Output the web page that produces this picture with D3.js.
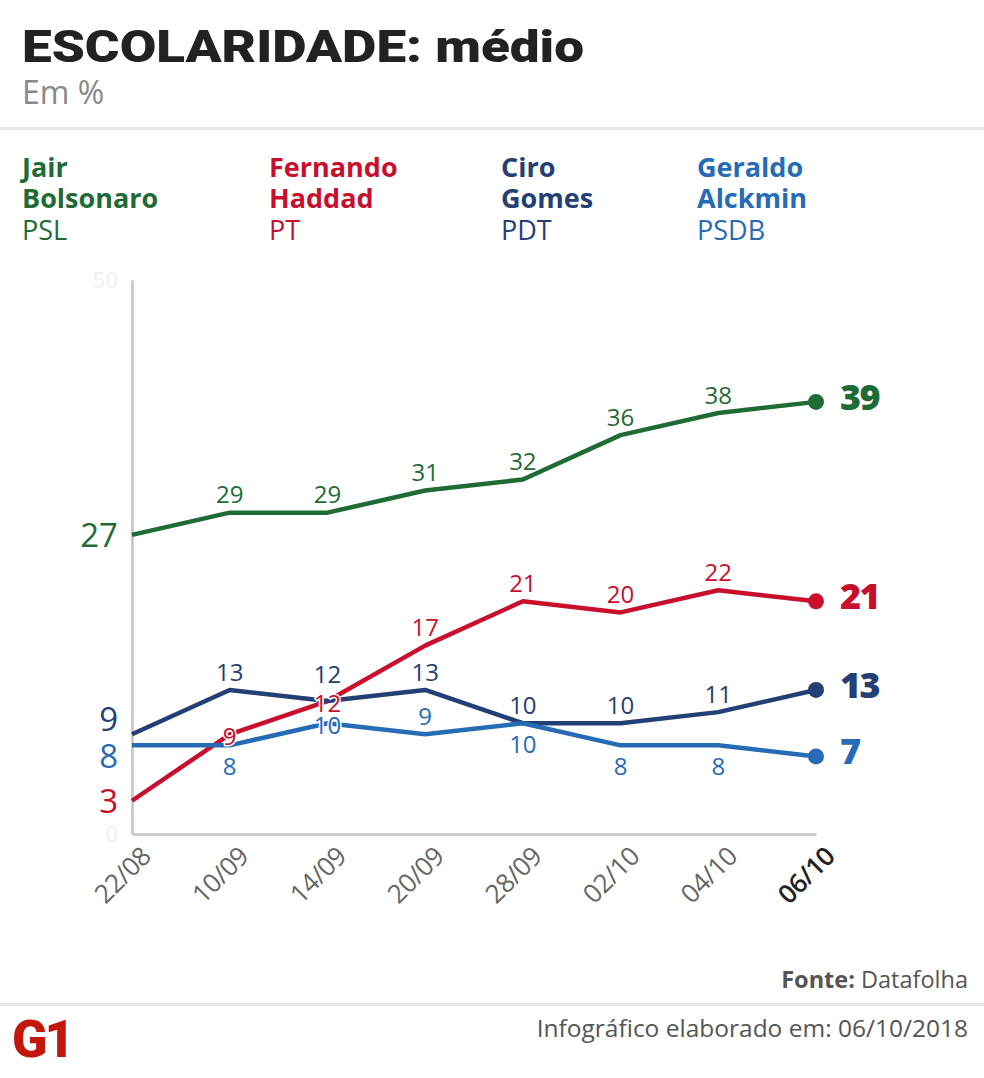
<!DOCTYPE html>
<html>
<head>
<meta charset="utf-8">
<script src="https://cdn.jsdelivr.net/npm/d3@7"></script>
<style>
  body { margin: 0; background: #fff; }
  svg { display: block; font-family: "Open Sans", sans-serif; }
</style>
</head>
<body>
<div id="chart"></div>
<script>
// Pesquisa Datafolha - escolaridade: médio
const dates = ["22/08", "10/09", "14/09", "20/09", "28/09", "02/10", "04/10", "06/10"];
const bolsonaro = [27, 29, 29, 31, 32, 36, 38, 39];
const haddad = [3, 9, 12, 17, 21, 20, 22, 21];
const ciro = [9, 13, 12, 13, 10, 10, 11, 13];
const alckmin = [8, 8, 10, 9, 10, 8, 8, 7];
const yTicks = [0, 50];

// where each label sits: a = above, h = higher above, b = below, o = on the point
const series = [
    { first: "Jair", last: "Bolsonaro", party: "PSL", color: "#1f6b36", values: bolsonaro, pos: "oaaaaaaa" },
    { first: "Fernando", last: "Haddad", party: "PT", color: "#c8102e", values: haddad, pos: "oooaaaaa" },
    { first: "Ciro", last: "Gomes", party: "PDT", color: "#243f73", values: ciro, pos: "aahaaaaa" },
    { first: "Geraldo", last: "Alckmin", party: "PSDB", color: "#256bb5", values: alckmin, pos: "bboabbbb" }
];
const offsets = { a: -18, h: -27, b: 21, o: 2 };

const W = 984, H = 1078;
const svg = d3.select("#chart").append("svg")
    .attr("width", W)
    .attr("height", H);

// cabeçalho
svg.append("text")
    .attr("x", 22).attr("y", 62)
    .attr("font-family", "Roboto, sans-serif")
    .attr("font-weight", 900)
    .attr("font-size", 45)
    .attr("textLength", 562)
    .attr("lengthAdjust", "spacingAndGlyphs")
    .attr("fill", "#222")
    .text("ESCOLARIDADE: médio");

svg.append("text")
    .attr("x", 22).attr("y", 104)
    .attr("font-size", 32)
    .attr("fill", "#888")
    .text("Em %");

svg.append("rect")
    .attr("x", 0).attr("y", 127).attr("width", W).attr("height", 3)
    .attr("fill", "#e6e6e6");

// legenda
const legendX = [22, 269, 501, 697];
series.forEach((s, i) => {
    const g = svg.append("g").attr("fill", s.color);
    g.append("text").attr("x", legendX[i]).attr("y", 177)
        .attr("font-size", 27).attr("font-weight", 700).text(s.first);
    g.append("text").attr("x", legendX[i]).attr("y", 208)
        .attr("font-size", 27).attr("font-weight", 700).text(s.last);
    g.append("text").attr("x", legendX[i]).attr("y", 240)
        .attr("font-size", 27).text(s.party);
});

// escalas
const x = d3.scalePoint().domain(dates).range([132, 816]);
const y = d3.scaleLinear().domain([0, 50]).range([834, 280]);

// eixo y (quase invisível)
const yAxis = svg.append("g")
    .attr("transform", "translate(132,0)")
    .call(d3.axisLeft(y).tickValues(yTicks).tickSize(0).tickPadding(14));
yAxis.select(".domain").attr("stroke", "#cccccc").attr("stroke-width", 3);
yAxis.selectAll("text")
    .attr("font-size", 22)
    .attr("font-family", "Open Sans, sans-serif")
    .attr("fill", "#f0f0f0");

// eixo x
const xAxis = svg.append("g")
    .attr("transform", "translate(0,834)")
    .call(d3.axisBottom(x).tickSize(0));
xAxis.select(".domain").attr("stroke", "#cccccc").attr("stroke-width", 3);
xAxis.selectAll("text")
    .attr("font-size", 26)
    .attr("font-family", "Open Sans, sans-serif")
    .attr("fill", d => d === "06/10" ? "#222" : "#666")
    .attr("font-weight", d => d === "06/10" ? 600 : 400)
    .attr("letter-spacing", -0.5)
    .attr("text-anchor", "end")
    .attr("dy", null)
    .attr("y", 0)
    .attr("transform", "translate(20,24) rotate(-45)");

// linhas
const line = d3.line()
    .x((d, i) => x(dates[i]))
    .y(d => y(d));

series.forEach(s => {
    svg.append("path")
        .datum(s.values)
        .attr("fill", "none")
        .attr("stroke", s.color)
        .attr("stroke-width", 4.5)
        .attr("stroke-linejoin", "round")
        .attr("d", line);
});

// rótulos
series.forEach(s => {
    const n = s.values.length;
    // valor inicial, à esquerda do eixo
    const p0 = s.pos[0];
    svg.append("text")
        .attr("x", 118)
        .attr("y", y(s.values[0]) + (p0 === "a" ? -15 : p0 === "b" ? 11 : 0))
        .attr("dy", "0.36em")
        .attr("text-anchor", "end")
        .attr("font-size", 33)
        .attr("fill", s.color)
        .text(s.values[0]);

    // valores intermediários
    for (let i = 1; i < n - 1; i++) {
        const p = s.pos[i];
        svg.append("text")
            .attr("x", x(dates[i]))
            .attr("y", y(s.values[i]) + offsets[p])
            .attr("dy", "0.36em")
            .attr("text-anchor", "middle")
            .attr("font-size", 24)
            .attr("fill", s.color)
            .attr("stroke", "#fff")
            .attr("stroke-width", p === "o" ? 3 : 0)
            .attr("paint-order", "stroke")
            .text(s.values[i]);
    }

    // ponto final e valor em destaque
    svg.append("circle")
        .attr("cx", x(dates[n - 1]))
        .attr("cy", y(s.values[n - 1]))
        .attr("r", 8)
        .attr("fill", s.color);

    svg.append("text")
        .attr("x", 840)
        .attr("y", y(s.values[n - 1]) - 5)
        .attr("dy", "0.36em")
        .attr("font-size", 36)
        .attr("font-weight", 800)
        .attr("letter-spacing", -1.5)
        .attr("fill", s.color)
        .text(s.values[n - 1]);
});

// rodapé
const fonte = svg.append("text")
    .attr("x", 968).attr("y", 988)
    .attr("text-anchor", "end")
    .attr("font-size", 23.5)
    .attr("fill", "#555");
fonte.append("tspan").attr("font-weight", 700).text("Fonte:");
fonte.append("tspan").text(" Datafolha");

svg.append("rect")
    .attr("x", 0).attr("y", 1003).attr("width", W).attr("height", 3)
    .attr("fill", "#e6e6e6");

svg.append("text")
    .attr("x", 968).attr("y", 1037)
    .attr("text-anchor", "end")
    .attr("font-size", 24.5)
    .attr("fill", "#555")
    .text("Infográfico elaborado em: 06/10/2018");

// logo G1
svg.append("text")
    .attr("x", 12).attr("y", 1057)
    .attr("font-family", "Roboto, sans-serif")
    .attr("font-weight", 900)
    .attr("font-size", 52)
    .attr("letter-spacing", -3)
    .attr("fill", "#c4170c")
    .text("G1");
</script>
</body>
</html>
